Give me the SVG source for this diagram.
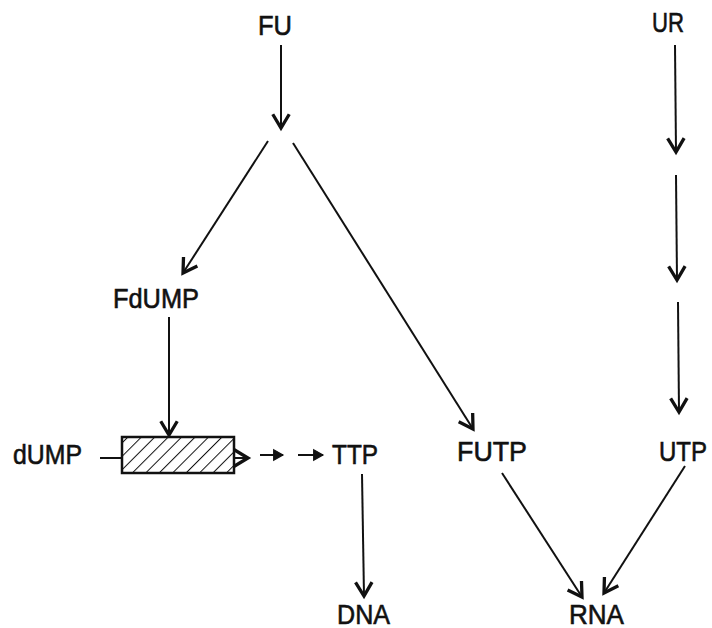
<svg xmlns="http://www.w3.org/2000/svg" width="712" height="628" viewBox="0 0 712 628">
<defs>
<style>
.t{font-family:"Liberation Sans",Arial,sans-serif;font-size:28px;fill:#111;stroke:#111;stroke-width:0.6;}
.c{stroke:#111;stroke-width:2;fill:none;}
</style>
<marker id="ah" markerUnits="userSpaceOnUse" markerWidth="22" markerHeight="22" viewBox="-12 -8 14 16" refX="0" refY="0" orient="auto">
<path d="M-10,-6 L0,0 L-10,6" fill="none" stroke="#111" stroke-width="2.4"/>
</marker>
<marker id="af" markerUnits="userSpaceOnUse" markerWidth="14" markerHeight="14" viewBox="-10 -6 12 12" refX="0" refY="0" orient="auto">
<path d="M-8,-4.5 L0,0 L-8,4.5 Z" fill="#111" stroke="#111" stroke-width="1"/>
</marker>
<pattern id="hatch" patternUnits="userSpaceOnUse" width="9.5" height="9.5" patternTransform="rotate(45)">
<line x1="0" y1="0" x2="0" y2="9.5" stroke="#111" stroke-width="2"/>
</pattern>
</defs>
<rect width="712" height="628" fill="#fff"/>
<g id="FU"><text class="t" x="258" y="35" textLength="34" lengthAdjust="spacingAndGlyphs">FU</text></g>
<g id="UR"><text class="t" x="652" y="32" textLength="32" lengthAdjust="spacingAndGlyphs">UR</text></g>
<g id="FdUMP"><text class="t" x="113" y="308" textLength="86" lengthAdjust="spacingAndGlyphs">FdUMP</text></g>
<g id="dUMP"><text class="t" x="13" y="464" textLength="69" lengthAdjust="spacingAndGlyphs">dUMP</text></g>
<g id="block"><rect x="122" y="437" width="112" height="36" fill="url(#hatch)" stroke="#111" stroke-width="2.5"/></g>
<g id="TTP"><text class="t" x="332" y="464" textLength="46" lengthAdjust="spacingAndGlyphs">TTP</text></g>
<g id="FUTP"><text class="t" x="457" y="461" textLength="70" lengthAdjust="spacingAndGlyphs">FUTP</text></g>
<g id="UTP"><text class="t" x="659" y="461" textLength="48" lengthAdjust="spacingAndGlyphs">UTP</text></g>
<g id="DNA"><text class="t" x="337" y="624" textLength="53" lengthAdjust="spacingAndGlyphs">DNA</text></g>
<g id="RNA"><text class="t" x="569" y="624" textLength="55" lengthAdjust="spacingAndGlyphs">RNA</text></g>
<g id="connectors">
<line class="c" x1="281" y1="45" x2="281" y2="128" marker-end="url(#ah)"/>
<line class="c" x1="268" y1="141" x2="183" y2="273" marker-end="url(#ah)"/>
<line class="c" x1="293" y1="143" x2="473" y2="429" marker-end="url(#ah)"/>
<line class="c" x1="169" y1="317" x2="169" y2="435" marker-end="url(#ah)"/>
<line class="c" x1="100" y1="458" x2="122" y2="458"/>
<line class="c" x1="234" y1="458" x2="248" y2="458" marker-end="url(#ah)"/>
<line class="c" x1="260" y1="455" x2="283" y2="455" marker-end="url(#af)"/>
<line class="c" x1="298" y1="455" x2="323" y2="455" marker-end="url(#af)"/>
<line class="c" x1="362" y1="474" x2="364" y2="596" marker-end="url(#ah)"/>
<line class="c" x1="675" y1="45" x2="676" y2="152" marker-end="url(#ah)"/>
<line class="c" x1="676" y1="175" x2="677" y2="280" marker-end="url(#ah)"/>
<line class="c" x1="678" y1="302" x2="679" y2="412" marker-end="url(#ah)"/>
<line class="c" x1="502" y1="473" x2="582" y2="597" marker-end="url(#ah)"/>
<line class="c" x1="685" y1="466" x2="604" y2="593" marker-end="url(#ah)"/>
</g>
</svg>
